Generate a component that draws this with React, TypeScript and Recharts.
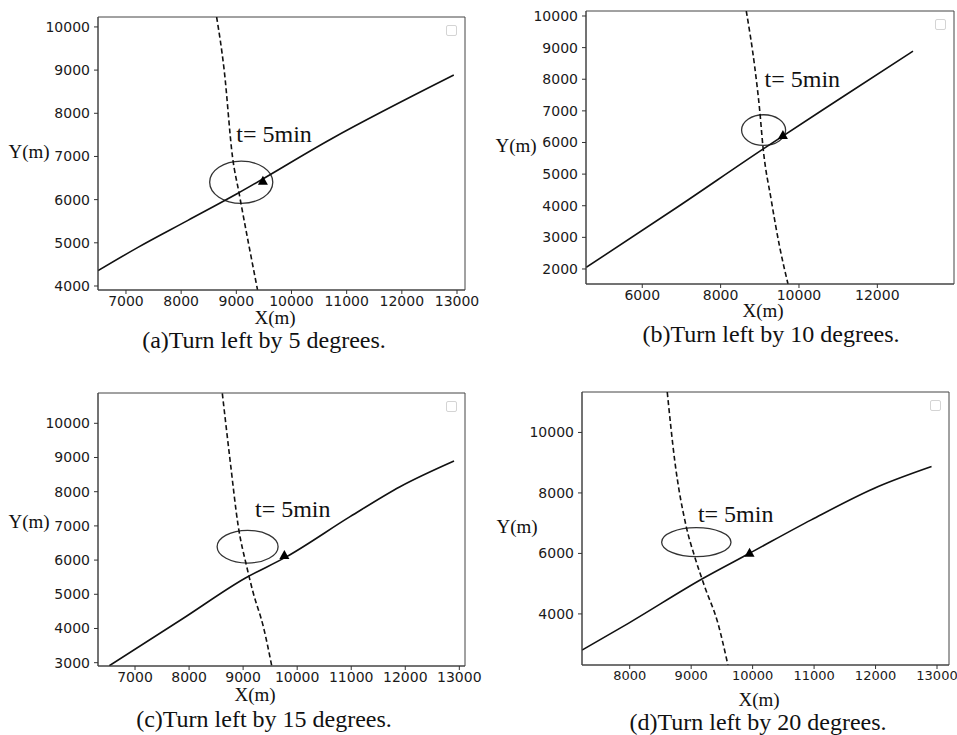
import React from 'react'
import {
  ComposedChart,
  Line,
  Scatter,
  XAxis,
  YAxis,
  ReferenceArea,
  ReferenceDot,
} from 'recharts'

// ── Data (metres) ────────────────────────────────────────────────────────────

type Pt = { x: number; y: number }

// own ship track (solid) and target track (dashed) for each turn angle
const ownTrackA: Pt[] = [
  { x: 6493, y: 4355 }, { x: 7217, y: 4895 }, { x: 8123, y: 5520 }, { x: 9029, y: 6148 },
  { x: 10719, y: 7405 }, { x: 12942, y: 8885 },
]
const targetTrackA: Pt[] = [
  { x: 8643, y: 10230 }, { x: 8780, y: 9000 }, { x: 8930, y: 7000 },
  { x: 9050, y: 6150 }, { x: 9385, y: 3908 },
]

const ownTrackB: Pt[] = [
  { x: 4570, y: 2050 }, { x: 6900, y: 3960 }, { x: 9080, y: 5790 },
  { x: 11150, y: 7470 }, { x: 12910, y: 8890 },
]
const targetTrackB: Pt[] = [
  { x: 8655, y: 10158 }, { x: 8870, y: 8396 }, { x: 8997, y: 7025 }, { x: 9081, y: 5864 },
  { x: 9293, y: 4177 }, { x: 9507, y: 2700 }, { x: 9720, y: 1525 },
]

const ownTrackC: Pt[] = [
  { x: 6524, y: 2910 }, { x: 7894, y: 4298 }, { x: 9035, y: 5468 }, { x: 9806, y: 6100 },
  { x: 10978, y: 7269 }, { x: 11903, y: 8146 }, { x: 12902, y: 8898 },
]
const targetTrackC: Pt[] = [
  { x: 8615, y: 10877 }, { x: 8758, y: 8927 }, { x: 8911, y: 6977 }, { x: 9067, y: 5807 },
  { x: 9189, y: 5029 }, { x: 9374, y: 4053 }, { x: 9529, y: 2912 },
]

const ownTrackD: Pt[] = [
  { x: 7224, y: 2805 }, { x: 7978, y: 3689 }, { x: 9197, y: 5179 }, { x: 9952, y: 6007 },
  { x: 10954, y: 7109 }, { x: 12044, y: 8212 }, { x: 12911, y: 8874 },
]
const targetTrackD: Pt[] = [
  { x: 8611, y: 11337 }, { x: 8731, y: 9096 }, { x: 8920, y: 6887 }, { x: 9057, y: 5894 },
  { x: 9220, y: 4901 }, { x: 9436, y: 3689 }, { x: 9598, y: 2311 },
]

// ship position marker at t = 5 min
const markerA: Pt[] = [{ x: 9482, y: 6440 }]
const markerB: Pt[] = [{ x: 9590, y: 6234 }]
const markerC: Pt[] = [{ x: 9763, y: 6149 }]
const markerD: Pt[] = [{ x: 9950, y: 6026 }]

// domain ellipse: centre and semi-axes
const ellipseA = { x: 9089, y: 6402, rx: 572, ry: 490 }
const ellipseB = { x: 9097, y: 6392, rx: 562, ry: 485 }
const ellipseC = { x: 9083, y: 6392, rx: 564, ry: 478 }
const ellipseD = { x: 9084, y: 6371, rx: 564, ry: 480 }

// "t= 5min" anchor (left, baseline)
const labelA: Pt = { x: 9000, y: 7343 }
const labelB: Pt = { x: 9122, y: 7753 }
const labelC: Pt = { x: 9220, y: 7269 }
const labelD: Pt = { x: 9110, y: 7053 }

const xTicksA = [7000, 8000, 9000, 10000, 11000, 12000, 13000]
const yTicksA = [4000, 5000, 6000, 7000, 8000, 9000, 10000]
const xTicksB = [6000, 8000, 10000, 12000]
const yTicksB = [2000, 3000, 4000, 5000, 6000, 7000, 8000, 9000, 10000]
const xTicksC = [7000, 8000, 9000, 10000, 11000, 12000, 13000]
const yTicksC = [3000, 4000, 5000, 6000, 7000, 8000, 9000, 10000]
const xTicksD = [8000, 9000, 10000, 11000, 12000, 13000]
const yTicksD = [4000, 6000, 8000, 10000]

const captions = [
  '(a)Turn left by 5 degrees.',
  '(b)Turn left by 10 degrees.',
  '(c)Turn left by 15 degrees.',
  '(d)Turn left by 20 degrees.',
]

// ── Panel ────────────────────────────────────────────────────────────────────

interface PanelProps {
  own: Pt[]
  target: Pt[]
  marker: Pt[]
  ellipse: { x: number; y: number; rx: number; ry: number }
  label: Pt
  xDomain: [number, number]
  yDomain: [number, number]
  xTicks: number[]
  yTicks: number[]
  tickSize?: number
  // plot box in page pixels and chart box
  plot: { l: number; t: number; r: number; b: number }
  box: { l: number; t: number; w: number; h: number }
}

const SERIF = "'Liberation Serif', 'Times New Roman', serif"
const X_AXIS_H = 20

const triangle = (p: any) => (
  <polygon
    points={`${p.cx - 5},${p.cy + 4} ${p.cx + 5},${p.cy + 4} ${p.cx},${p.cy - 5}`}
    fill="#000"
  />
)

function Panel(props: PanelProps) {
  const { plot, box, ellipse, label } = props
  const tickStyle = { fontSize: props.tickSize ?? 14, fill: '#1a1a1a', fontFamily: 'DejaVu Sans' }
  const margin = {
    top: plot.t - box.t,
    right: box.l + box.w - plot.r,
    bottom: box.t + box.h - plot.b - X_AXIS_H,
    left: 0,
  }
  return (
    <div style={{ position: 'absolute', left: box.l, top: box.t, width: box.w, height: box.h }}>
      <ComposedChart width={box.w} height={box.h} margin={margin}>
        <XAxis
          type="number"
          dataKey="x"
          domain={props.xDomain}
          ticks={props.xTicks}
          interval={0}
          allowDataOverflow
          height={X_AXIS_H}
          tick={tickStyle}
          tickSize={4}
          tickMargin={2}
          tickLine={{ stroke: '#333' }}
          axisLine={{ stroke: '#444' }}
        />
        <YAxis
          type="number"
          dataKey="y"
          domain={props.yDomain}
          ticks={props.yTicks}
          interval={0}
          allowDataOverflow
          width={plot.l - box.l}
          tick={{ ...tickStyle, fontSize: 14 }}
          tickSize={4}
          tickMargin={4}
          tickLine={{ stroke: '#333' }}
          axisLine={{ stroke: '#444' }}
        />
        {/* frame */}
        <ReferenceArea
          x1={props.xDomain[0]}
          x2={props.xDomain[1]}
          y1={props.yDomain[0]}
          y2={props.yDomain[1]}
          fill="none"
          stroke="#444"
          strokeWidth={1}
        />
        <ReferenceArea
          x1={ellipse.x - ellipse.rx}
          x2={ellipse.x + ellipse.rx}
          y1={ellipse.y - ellipse.ry}
          y2={ellipse.y + ellipse.ry}
          shape={(p: any) => (
            <ellipse
              cx={p.x + p.width / 2}
              cy={p.y + p.height / 2}
              rx={Math.abs(p.width) / 2}
              ry={Math.abs(p.height) / 2}
              fill="none"
              stroke="#333"
              strokeWidth={1.3}
            />
          )}
        />
        <Line
          data={props.target}
          dataKey="y"
          type="monotone"
          stroke="#111"
          strokeWidth={1.6}
          strokeDasharray="5 3"
          dot={false}
          activeDot={false}
          isAnimationActive={false}
        />
        <Line
          data={props.own}
          dataKey="y"
          type="monotone"
          stroke="#111"
          strokeWidth={1.6}
          dot={false}
          activeDot={false}
          isAnimationActive={false}
        />
        <Scatter data={props.marker} dataKey="y" shape={triangle} isAnimationActive={false} />
        <ReferenceDot
          x={label.x}
          y={label.y}
          r={0}
          shape={(p: any) => (
            <text x={p.cx} y={p.cy} fontFamily={SERIF} fontSize={24} fill="#111">
              t= 5min
            </text>
          )}
        />
      </ComposedChart>
      {/* empty legend */}
      <div
        style={{
          position: 'absolute',
          left: plot.r - box.l - 19,
          top: plot.t - box.t + 8,
          width: 9,
          height: 9,
          border: '1px solid #d4d4d4',
          borderRadius: 2,
        }}
      />
    </div>
  )
}

const serif: React.CSSProperties = {
  position: 'absolute',
  fontFamily: SERIF,
  color: '#111',
  whiteSpace: 'nowrap',
  transform: 'translate(-50%, -50%)',
  lineHeight: 0.9,
}

function Text({ x, y, size, children }: { x: number; y: number; size: number; children: React.ReactNode }) {
  return <div style={{ ...serif, left: x, top: y, fontSize: size }}>{children}</div>
}

export default function App() {
  return (
    <div style={{ position: 'absolute', left: 0, top: 0, width: 957, height: 735, background: '#fff', overflow: 'hidden' }}>
      <Panel
        own={ownTrackA}
        target={targetTrackA}
        marker={markerA}
        ellipse={ellipseA}
        label={labelA}
        xDomain={[6493, 13145]}
        yDomain={[3907, 10230]}
        xTicks={xTicksA}
        yTicks={yTicksA}
        plot={{ l: 98, t: 17, r: 465, b: 290 }}
        box={{ l: 0, t: 0, w: 490, h: 315 }}
      />
      <Panel
        own={ownTrackB}
        target={targetTrackB}
        marker={markerB}
        ellipse={ellipseB}
        label={labelB}
        xDomain={[4564, 13957]}
        yDomain={[1525, 10158]}
        xTicks={xTicksB}
        yTicks={yTicksB}
        plot={{ l: 586, t: 11, r: 954, b: 284 }}
        box={{ l: 478, t: 0, w: 479, h: 315 }}
      />
      <Panel
        own={ownTrackC}
        target={targetTrackC}
        marker={markerC}
        ellipse={ellipseC}
        label={labelC}
        xDomain={[6315, 13105]}
        yDomain={[2903, 10886]}
        xTicks={xTicksC}
        yTicks={yTicksC}
        plot={{ l: 98, t: 393, r: 465, b: 666 }}
        box={{ l: 0, t: 375, w: 490, h: 315 }}
      />
      <Panel
        own={ownTrackD}
        target={targetTrackD}
        marker={markerD}
        ellipse={ellipseD}
        label={labelD}
        xDomain={[7224, 13195]}
        yDomain={[2311, 11337]}
        xTicks={xTicksD}
        yTicks={yTicksD}
        tickSize={13}
        plot={{ l: 582, t: 392, r: 949, b: 665 }}
        box={{ l: 478, t: 375, w: 479, h: 315 }}
      />

      <Text x={29} y={152} size={19}>Y(m)</Text>
      <Text x={516} y={146} size={19}>Y(m)</Text>
      <Text x={29} y={522} size={19}>Y(m)</Text>
      <Text x={517} y={527} size={19}>Y(m)</Text>

      <Text x={275} y={318} size={19}>X(m)</Text>
      <Text x={763} y={311} size={19}>X(m)</Text>
      <Text x={255} y={695} size={19}>X(m)</Text>
      <Text x={759} y={700} size={19}>X(m)</Text>

      <Text x={264} y={341} size={24}>{captions[0]}</Text>
      <Text x={771} y={335} size={24}>{captions[1]}</Text>
      <Text x={264} y={720} size={24}>{captions[2]}</Text>
      <Text x={758} y={723} size={24}>{captions[3]}</Text>
    </div>
  )
}
